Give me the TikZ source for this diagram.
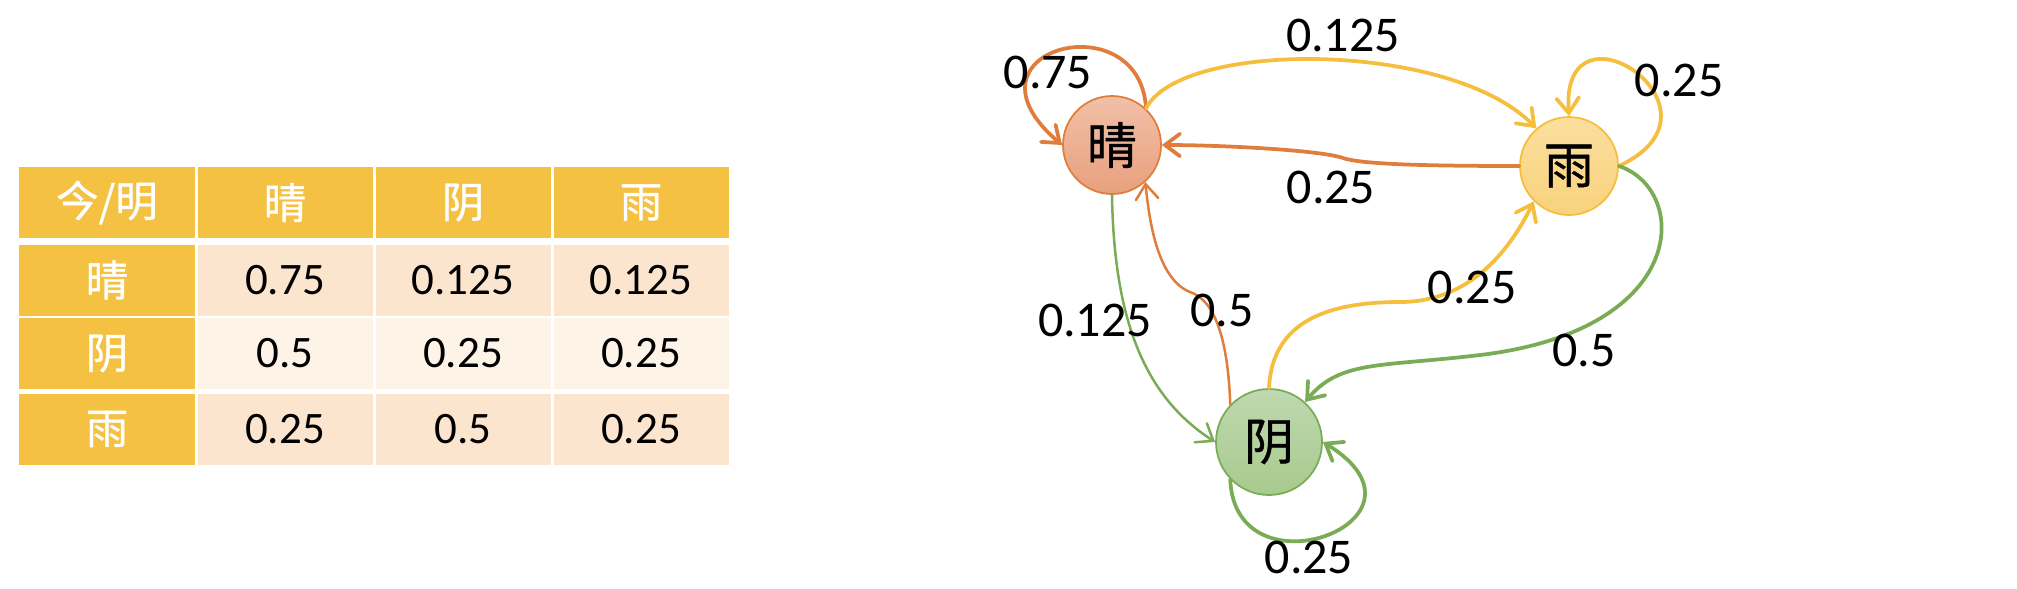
\documentclass[tikz,border=0pt]{standalone}
\usepackage{fontspec}
\setmainfont{Carlito}
\newfontfamily\cjk{Noto Sans CJK SC}[FakeBold=0.8]
\usetikzlibrary{arrows.meta}
\definecolor{tabhead}{RGB}{245,193,66}
\definecolor{tabdark}{RGB}{251,229,206}
\definecolor{tablight}{RGB}{253,243,231}
\definecolor{sunline}{RGB}{224,125,60}
\definecolor{rainline}{RGB}{245,190,60}
\definecolor{cloudline}{RGB}{122,172,85}
\begin{document}
\begin{tikzpicture}[x=0.4pt,y=-0.4pt,
	cell/.style={minimum width=70pt,minimum height=28.4pt,inner sep=0pt,font=\fontsize{18}{18}\selectfont},
	headcell/.style={cell,fill=tabhead,text=white,font=\cjk\fontsize{17}{17}\selectfont},
	state/.style={circle,draw,line width=0.7pt,minimum size=39.2pt,inner sep=0pt,font=\cjk\fontsize{20}{20}\selectfont},
	edge/.style={line width=1.5pt,line cap=round,-{Straight Barb[length=6pt,width=9pt,line cap=round]}},
	thinedge/.style={edge,line width=1pt},
	prob/.style={font=\fontsize{20}{20}\selectfont,inner sep=0pt}]
		\useasboundingbox (0,0) rectangle (2017,588);
		% table header
			\node [headcell] (h0) at (107,202.5) {今/明};
			\node [headcell] (h1) at (285,202.5) {晴};
			\node [headcell] (h2) at (463,202.5) {阴};
			\node [headcell] (h3) at (641,202.5) {雨};
		% table rows
			\foreach \r/\day/\pa/\pb/\pc/\y/\bg in {1/晴/0.75/0.125/0.125/280/tabdark,2/阴/0.5/0.25/0.25/353.5/tablight,3/雨/0.25/0.5/0.25/429/tabdark}{
				\node [headcell] (r\r c0) at (107,\y) {\day};
				\node [cell,fill=\bg] (r\r c1) at (285,\y) {\pa};
				\node [cell,fill=\bg] (r\r c2) at (463,\y) {\pb};
				\node [cell,fill=\bg] (r\r c3) at (641,\y) {\pc};
			}
		% states
			\node [state,draw=sunline,top color={rgb,255:red,241;green,192;blue,168},bottom color={rgb,255:red,232;green,160;blue,125}] (qing) at (1112,145) {晴};
			\node [state,draw=rainline,top color={rgb,255:red,251;green,223;blue,158},bottom color={rgb,255:red,248;green,210;blue,125}] (yu) at (1569,166) {雨};
			\node [state,draw=cloudline,minimum size=42.4pt,top color={rgb,255:red,191;green,216;blue,176},bottom color={rgb,255:red,167;green,202;blue,141}] (yin) at (1269,442) {阴};
		% from sunny
			\draw [edge,sunline] (qing.47) .. controls (1140,0) and (950,50) .. (qing.west);
			\draw [edge,rainline] (qing.47) .. controls (1180,40) and (1450,40) .. (yu.131);
			\draw [thinedge,cloudline] (qing.south) .. controls (1114,330) and (1150,400) .. (yin.west);
		% from rainy
			\draw [edge,rainline] (yu.east) .. controls (1740,110) and (1560,-10) .. (yu.north);
			\draw [edge,sunline] (yu.west) .. controls (1420,166) and (1360,164) .. (1343,158) .. controls (1320,150) and (1220,145) .. (qing.east);
			\draw [edge,cloudline] (yu.east) .. controls (1690,190) and (1690,330) .. (1480,355) .. controls (1380,367) and (1340,360) .. (yin.48);
		% from cloudy
			\draw [thinedge,sunline] (yin.136) .. controls (1228,340) and (1215,300) .. (1190,292) .. controls (1160,280) and (1150,230) .. (qing.-48);
			\draw [edge,rainline] (yin.north) .. controls (1272,320) and (1330,302) .. (1400,302) .. controls (1470,302) and (1510,250) .. (yu.225);
			\draw [edge,cloudline] (yin.224) .. controls (1235,600) and (1450,520) .. (yin.east);
		% probabilities
			\node [prob] (pqq) at (1048,72) {0.75};
			\node [prob] (pqy) at (1343,35) {0.125};
			\node [prob] (pyy) at (1679,80) {0.25};
			\node [prob] (pyq) at (1331,187) {0.25};
			\node [prob] (pqn) at (1095,320) {0.125};
			\node [prob] (pnq) at (1222,310) {0.5};
			\node [prob] (pny) at (1472,287) {0.25};
			\node [prob] (pyn) at (1584,350) {0.5};
			\node [prob] (pnn) at (1309,557) {0.25};
\end{tikzpicture}
\end{document}
